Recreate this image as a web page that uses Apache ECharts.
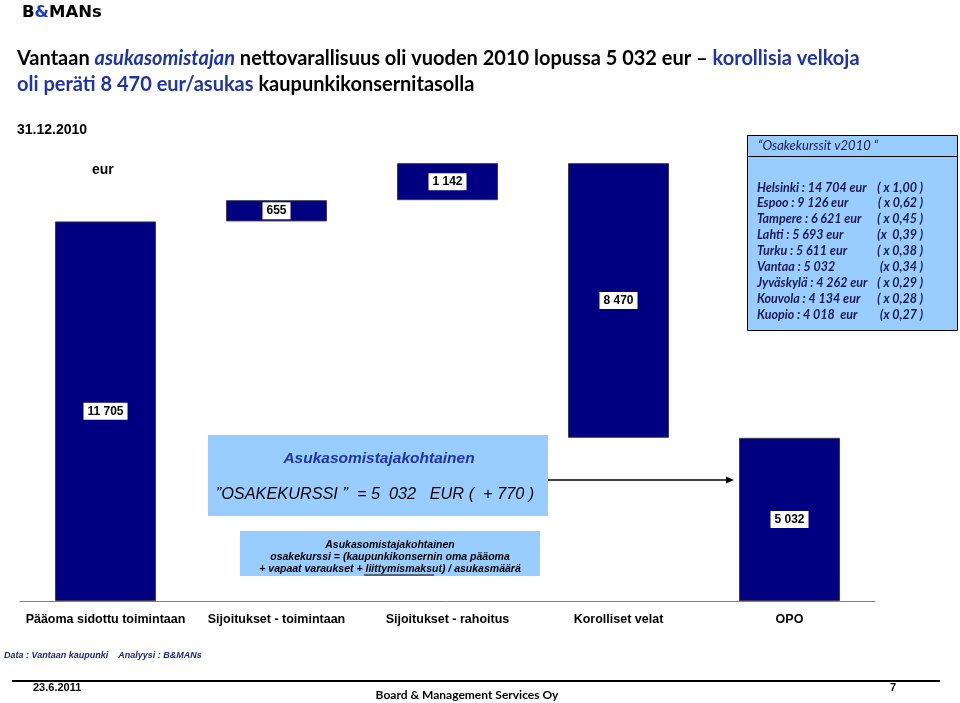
<!DOCTYPE html>
<html><head><meta charset="utf-8">
<script src="https://cdn.jsdelivr.net/npm/echarts@6/dist/echarts.min.js"></script>
<style>html,body{margin:0;padding:0;background:#fff}#c{width:960px;height:703px}</style>
</head><body><div id="c"></div>
<script>
// ---- data ----
const categories = ['Pääoma sidottu toimintaan', 'Sijoitukset - toimintaan', 'Sijoitukset - rahoitus', 'Korolliset velat', 'OPO'];
const steps = [11705, 655, 1142, -8470, 5032];
const isTotal = [false, false, false, false, true];
const cityNames = ['Helsinki', 'Espoo', 'Tampere', 'Lahti', 'Turku', 'Vantaa', 'Jyväskylä', 'Kouvola', 'Kuopio'];
const cityValues = ['14 704 eur', '9 126 eur', '6 621 eur', '5 693 eur', '5 611 eur', '5 032', '4 262 eur', '4 134 eur', '4 018  eur'];
const cityRatios = ['( x 1,00 )', '( x 0,62 )', '( x 0,45 )', '(x  0,39 )', '( x 0,38 )', '(x 0,34 )', '( x 0,29 )', '( x 0,28 )', '(x 0,27 )'];

// ---- waterfall build ----
const baseVals = [], barVals = [];
let running = 0;
steps.forEach((v, i) => {
  if (isTotal[i]) { baseVals.push(0); barVals.push(v); }
  else if (v >= 0) { baseVals.push(running); barVals.push(v); running += v; }
  else { running += v; baseVals.push(running); barVals.push(-v); }
});
const fmt = n => String(n).replace(/\B(?=(\d{3})+(?!\d))/g, ' ');

const NAVY = '#000080';
const TBLUE = '#1f34a6';
const BOXBLUE = '#99ccff';

const graphics = [];
// header logo
graphics.push({type:'text', left:22, top:4, style:{text:'{k|B}{b|&}{k|MANs}', rich:{
  k:{fontFamily:'DejaVu Sans', fontWeight:'bold', fontSize:16.5, fill:'#000'},
  b:{fontFamily:'DejaVu Sans', fontWeight:'bold', fontSize:16.5, fill:'#1a3bd0'}}}});
// date & unit
graphics.push({type:'text', left:17, top:123, style:{text:'31.12.2010', font:'bold 14px "Liberation Sans"', fill:'#000'}});
graphics.push({type:'text', left:92, top:163, style:{text:'eur', font:'bold 14px "Liberation Sans"', fill:'#000'}});

// right info box
graphics.push({type:'rect', shape:{x:747.5, y:135.5, width:210, height:21}, style:{fill:BOXBLUE, stroke:'#000', lineWidth:1}});
graphics.push({type:'rect', shape:{x:747.5, y:156.5, width:210, height:174}, style:{fill:BOXBLUE, stroke:'#000', lineWidth:1}});
graphics.push({type:'text', left:758, top:139, style:{text:'“Osakekurssit v2010 “', font:'italic 13px Lato', fill:'#1a1a4a'}});
cityNames.forEach((n, i) => {
  const y = 181 + i * 15.9;
  graphics.push({type:'text', left:757, top:y, style:{text:n + ' : ' + cityValues[i], font:'italic bold 12.5px Lato', fill:'#1a1a50'}});
  graphics.push({type:'text', right: 960 - 923, top:y, style:{text:cityRatios[i], font:'italic bold 12.5px Lato', fill:'#1a1a50', align:'right'}});
});

// middle box
graphics.push({type:'rect', shape:{x:208, y:435, width:340, height:81}, style:{fill:BOXBLUE}});
graphics.push({type:'text', x:379, y:459, style:{text:'Asukasomistajakohtainen', font:'italic bold 15.5px "Liberation Sans"', fill:TBLUE, align:'center', verticalAlign:'middle'}});
graphics.push({type:'text', x:375, y:494, style:{text:'”OSAKEKURSSI ”  = 5  032   EUR (  + 770 )', font:'italic 16.3px "Liberation Sans"', fill:'#000', align:'center', verticalAlign:'middle'}});
// arrow
graphics.push({type:'line', shape:{x1:548, y1:480, x2:728, y2:480}, style:{stroke:'#000', lineWidth:1.5}});
graphics.push({type:'polygon', shape:{points:[[734,480],[726,476.5],[726,483.5]]}, style:{fill:'#000'}});

// small definition box
graphics.push({type:'rect', shape:{x:240, y:531, width:300, height:45}, style:{fill:BOXBLUE}});
const defLines = ['Asukasomistajakohtainen', 'osakekurssi = (kaupunkikonsernin oma pääoma', '+ vapaat varaukset + liittymismaksut) / asukasmäärä'];
defLines.forEach((t, i) => {
  graphics.push({type:'text', x:390, y:545 + i * 12, style:{text:t, font:'italic bold 10.5px "Liberation Sans"', fill:'#000', align:'center', verticalAlign:'middle'}});
});
graphics.push({type:'line', shape:{x1:364, y1:575, x2:434, y2:575}, style:{stroke:'#000', lineWidth:1}});

// footer
graphics.push({type:'text', left:4, top:651, style:{text:'Data : Vantaan kaupunki    Analyysi : B&MANs', font:'italic bold 9px "Liberation Sans Narrow", "Liberation Sans"', fill:'#1a2a7a'}});
graphics.push({type:'line', shape:{x1:12, y1:681, x2:940, y2:681}, style:{stroke:'#000', lineWidth:2}});
graphics.push({type:'text', left:33, top:682, style:{text:'23.6.2011', font:'bold 11px "Liberation Sans Narrow", "Liberation Sans"', fill:'#000'}});
graphics.push({type:'text', left:890, top:682, style:{text:'7', font:'bold 11px "Liberation Sans"', fill:'#000'}});
graphics.push({type:'text', x:467, y:695, style:{text:'Board & Management Services Oy', font:'bold 12px Lato', fill:'#000', align:'center', verticalAlign:'middle'}});

const chart = echarts.init(document.getElementById('c'));
chart.setOption({
  animation: false,
  backgroundColor: '#fff',
  title: {
    left: 17, top: 46, padding: 0,
    text: '{a|Vantaan }{i|asukasomistajan}{a| nettovarallisuus oli vuoden 2010 lopussa 5 032 eur – }{b|korollisia velkoja}\n{b|oli peräti 8 470 eur/asukas}{a| kaupunkikonsernitasolla}',
    textStyle: {
      rich: {
        a: {fontFamily:'Lato', fontWeight:'bold', fontSize:20, color:'#000', lineHeight:26},
        b: {fontFamily:'Lato', fontWeight:'bold', fontSize:20, color:TBLUE, lineHeight:26},
        i: {fontFamily:'Lato', fontWeight:'bold', fontStyle:'italic', fontSize:20, color:TBLUE, lineHeight:26}
      }
    }
  },
  grid: {left: 20, right: 85, top: 147, bottom: 102},
  xAxis: {
    type: 'category', data: categories,
    axisLine: {lineStyle: {color: '#808080', width: 1}},
    axisTick: {show: false},
    axisLabel: {margin: 12, fontSize: 12.5, color: '#000', fontFamily: 'Liberation Sans', fontWeight: 'bold', interval: 0}
  },
  yAxis: {type: 'value', min: 0, max: 14000, show: false},
  series: [
    {type: 'bar', stack: 'w', data: baseVals, itemStyle: {color: 'transparent'}, silent: true, barWidth: 101},
    {type: 'bar', stack: 'w', data: barVals, barWidth: 101,
      itemStyle: {color: NAVY, borderColor: '#3a3a5a', borderWidth: 1},
      label: {show: true, position: 'inside', formatter: p => fmt(p.value),
        backgroundColor: '#fff', color: '#000', fontWeight: 'bold', fontSize: 12,
        fontFamily: 'Liberation Sans', padding: [3, 4, 2, 4]}}
  ],
  graphic: graphics
});
</script></body></html>
